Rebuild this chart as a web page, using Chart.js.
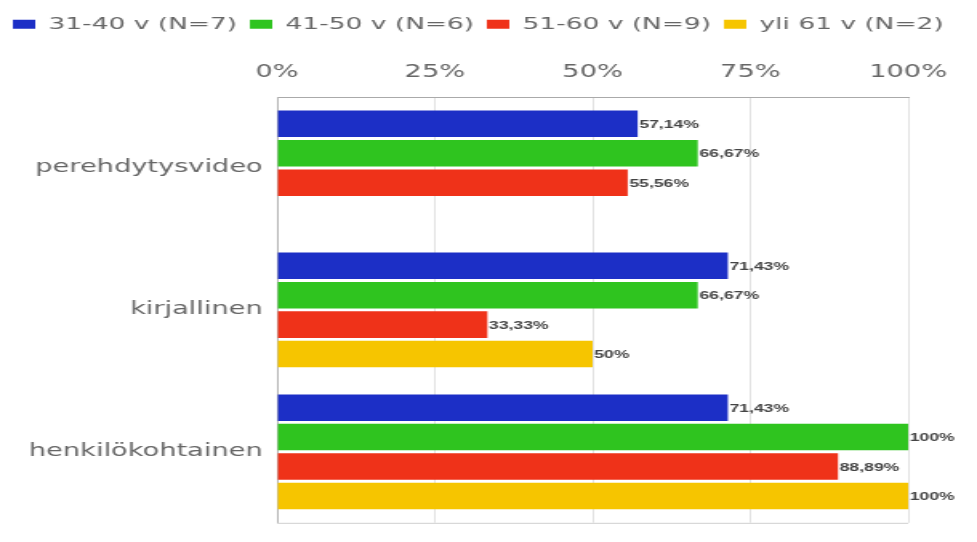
<!DOCTYPE html>
<html lang="fi">
<head>
  <meta charset="UTF-8" />
  <title>Perehdytystavat ikäryhmittäin</title>
  <script src="https://cdn.jsdelivr.net/npm/chart.js"></script>
  <style>
    html, body { margin: 0; padding: 0; background: #fff; overflow: hidden; }
    /* the chart is drawn narrow and widened sideways */
    #wrap { width: 610px; height: 542px; transform: scale(1.6016, 1); transform-origin: 0 0; }
  </style>
</head>
<body>
  <div id="wrap">
    <canvas id="chart" width="610" height="542"></canvas>
  </div>

  <script>
    // categories and series
    const categories = ['perehdytysvideo', 'kirjallinen', 'henkilökohtainen'];
    const groupLabels = ['31-40 v (N=7)', '41-50 v (N=6)', '51-60 v (N=9)', 'yli 61 v (N=2)'];
    const colors = ['#1c2fc6', '#2fc41f', '#ef3219', '#f6c500'];

    const age31to40 = [57.14, 71.43, 71.43];
    const age41to50 = [66.67, 66.67, 100];
    const age51to60 = [55.56, 33.33, 88.89];
    const age61plus = [null, 50, 100];

    const tickValues = [0, 25, 50, 75, 100];

    const series = [age31to40, age41to50, age51to60, age61plus];

    function pct(v) {
      let s = v.toFixed(2).replace('.', ',');
      if (s.endsWith(',00')) s = s.slice(0, -3);
      return s + '%';
    }

    // value labels at the bar ends + bottom frame line
    const barLabels = {
      id: 'barLabels',
      afterDatasetsDraw(chart) {
        const ctx = chart.ctx;
        ctx.save();
        ctx.font = 'bold 11px "Liberation Sans", Arial, sans-serif';
        ctx.fillStyle = '#444';
        ctx.textAlign = 'left';
        ctx.textBaseline = 'middle';
        chart.data.datasets.forEach((ds, i) => {
          chart.getDatasetMeta(i).data.forEach((bar, j) => {
            const v = ds.data[j];
            if (v == null) return;
            ctx.fillText(pct(v), bar.x + 1, bar.y + 1);
          });
        });
        const a = chart.chartArea;
        ctx.strokeStyle = '#cfcfcf';
        ctx.lineWidth = 1;
        ctx.beginPath();
        ctx.moveTo(a.left, a.bottom + 0.5);
        ctx.lineTo(a.right, a.bottom + 0.5);
        ctx.stroke();
        ctx.restore();
      }
    };

    const padTop = 8;

    new Chart(document.getElementById('chart'), {
      type: 'bar',
      data: {
        labels: categories,
        datasets: series.map((d, i) => ({
          label: groupLabels[i],
          data: d,
          backgroundColor: colors[i],
          borderWidth: 0,
          categoryPercentage: 0.83,
          barPercentage: 0.9
        }))
      },
      plugins: [barLabels],
      options: {
        indexAxis: 'y',
        responsive: false,
        maintainAspectRatio: false,
        animation: false,
        layout: { padding: { top: padTop, left: 0, right: 0, bottom: 12 } },
        plugins: {
          tooltip: { enabled: false },
          legend: {
            position: 'top',
            align: 'start',
            labels: {
              boxWidth: 14,
              boxHeight: 9,
              padding: 8,
              color: '#666',
              font: { family: '"DejaVu Sans", sans-serif', size: 16.5 }
            }
          }
        },
        scales: {
          x: {
            position: 'top',
            min: 0,
            max: 100,
            afterBuildTicks(scale) {
              scale.ticks = tickValues.map(v => ({ value: v }));
            },
            afterFit(scale) {
              const legendH = scale.chart.legend ? scale.chart.legend.height : 0;
              scale.height = 97 - padTop - legendH;
            },
            ticks: {
              padding: 14,
              color: '#666',
              font: { family: '"DejaVu Sans", sans-serif', size: 17 },
              callback: v => v + '%'
            },
            grid: { color: '#e2e2e2', drawTicks: false },
            border: { color: '#aaa' }
          },
          y: {
            afterFit(scale) { scale.width = 173; },
            ticks: {
              padding: 9,
              color: '#666',
              font: { family: '"DejaVu Sans", sans-serif', size: 17 }
            },
            grid: { display: false, drawTicks: false },
            border: { color: '#b5b5b5' }
          },
          // empty right-hand axis keeps room for the value labels past 100%
          yRight: {
            type: 'category',
            position: 'right',
            afterFit(scale) { scale.width = 43; },
            ticks: { display: false },
            grid: { display: false, drawTicks: false },
            border: { display: false }
          }
        }
      }
    });
  </script>
</body>
</html>
